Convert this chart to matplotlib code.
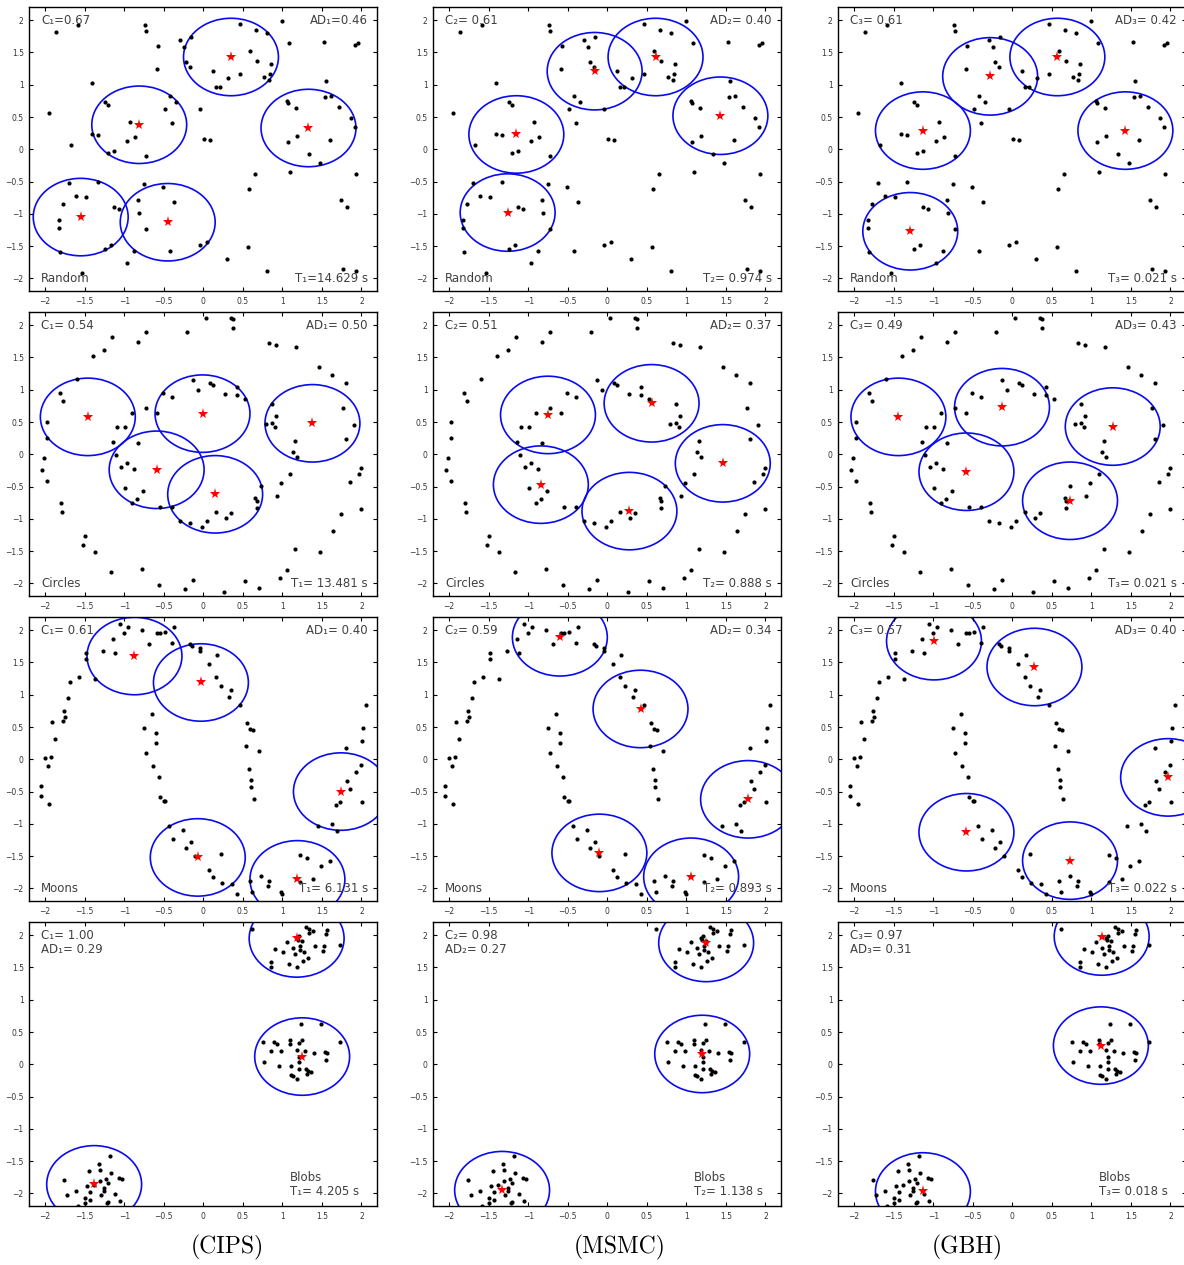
import numpy as np
import matplotlib
matplotlib.use("Agg")
import matplotlib.pyplot as plt
from matplotlib.patches import Circle

# ---- datasets (same points in every column of a row) ----
random_pts = [(-1.86, 1.82), (-1.59, 1.93), (-0.74, 1.92), (-0.73, 1.83), (-0.57, 1.60), (-0.59, 1.24),
              (-0.29, 1.69), (-0.24, 1.59), (-0.22, 1.35), (-0.17, 1.27), (-0.16, 1.74), (0.12, 1.21),
              (0.31, 1.10), (0.16, 0.96), (0.21, 0.97), (0.46, 1.94), (0.67, 1.85), (0.80, 1.80),
              (0.59, 1.52), (0.68, 1.37), (0.85, 1.32), (0.84, 1.16), (0.77, 1.12), (0.83, 1.07),
              (0.46, 1.17), (0.99, 1.99), (1.08, 1.64), (1.52, 1.67), (1.92, 1.61), (1.96, 1.65),
              (1.55, 1.06), (1.54, 0.81), (1.62, 0.83), (1.71, 0.66), (1.87, 0.48), (1.92, 0.35),
              (1.06, 0.75), (1.07, 0.71), (1.17, 0.64), (1.19, 0.20), (1.07, 0.11), (1.60, 0.14),
              (1.34, -0.07), (1.48, -0.22), (1.09, -0.35), (1.93, -0.39), (0.65, -0.39), (0.58, -0.62),
              (1.74, -0.78), (1.82, -0.89), (0.57, -1.52), (0.05, -1.44), (-0.04, -1.48), (0.30, -1.70),
              (0.80, -1.89), (1.77, -1.86), (1.93, -1.89), (0.01, 0.16), (0.09, 0.15), (-0.04, 0.63),
              (-0.42, 0.82), (-0.35, 0.74), (-0.49, 0.63), (-0.39, 0.40), (-1.41, 1.02), (-1.95, 0.57),
              (-1.24, 0.74), (-1.21, 0.69), (-1.41, 0.23), (-1.33, 0.22), (-0.93, 0.43), (-0.86, 0.19),
              (-0.97, 0.13), (-1.13, -0.02), (-1.20, -0.06), (-0.72, -0.10), (-1.67, 0.06), (-1.70, -0.52),
              (-1.33, -0.50), (-0.75, -0.53), (-0.51, -0.59), (-1.61, -0.73), (-1.48, -0.74), (-1.78, -0.84),
              (-0.83, -0.79), (-0.81, -0.99), (-1.13, -0.90), (-1.06, -0.92), (-0.37, -0.82), (-1.83, -1.10),
              (-1.83, -1.22), (-0.73, -1.23), (-1.17, -1.48), (-1.24, -1.55), (-1.81, -1.59), (-0.87, -1.58),
              (-0.42, -1.58), (-0.97, -1.76), (-1.53, -1.91)]

circles_pts = [(0.03, 2.11), (0.35, 2.11), (0.38, 2.09), (0.38, 1.96), (-0.21, 1.90), (-0.72, 1.90),
               (-0.82, 1.74), (-1.15, 1.82), (-1.25, 1.61), (-1.40, 1.53), (-1.60, 1.16), (-1.81, 0.95),
               (-1.78, 0.83), (-1.98, 0.50), (-1.97, 0.26), (-2.02, -0.05), (-2.04, -0.24), (-1.97, -0.41),
               (-1.80, -0.75), (-1.79, -0.90), (-1.49, -1.26), (-1.52, -1.40), (-1.37, -1.51), (-1.17, -1.82),
               (-0.77, -1.77), (-0.56, -2.02), (-0.23, -2.09), (-0.13, -1.94), (0.26, -2.14), (0.53, -1.96),
               (0.71, -2.07), (0.97, -1.91), (1.06, -1.79), (1.16, -1.47), (1.47, -1.52), (1.64, -1.19),
               (1.74, -0.92), (2.00, -0.85), (1.86, -0.43), (1.97, -0.30), (2.00, -0.21), (1.81, 0.23),
               (1.91, 0.46), (1.77, 0.72), (1.80, 1.10), (1.63, 1.23), (1.46, 1.36), (1.17, 1.66),
               (0.92, 1.70), (0.83, 1.73), (1.16, 0.20), (1.13, 0.04), (1.18, -0.04), (1.09, -0.30),
               (0.98, -0.44), (0.93, -0.65), (0.87, 0.49), (0.79, 0.47), (0.91, 0.43), (0.92, 0.59),
               (0.87, 0.78), (0.66, -0.68), (0.68, -0.73), (0.68, -0.83), (0.35, -0.91), (0.29, -0.98),
               (0.16, -0.89), (0.05, -1.04), (-0.02, -1.12), (-0.17, -1.07), (-0.29, -1.04), (-0.39, -0.82),
               (-0.55, -0.82), (-0.76, -0.57), (-0.84, -0.69), (-0.90, -0.76), (-0.99, -0.52), (-0.88, -0.23),
               (-0.96, -0.13), (-1.04, -0.20), (-1.10, -0.01), (-1.14, 0.19), (-0.83, 0.18), (-1.09, 0.42),
               (-0.99, 0.42), (-0.90, 0.64), (-0.72, 0.71), (-0.58, 0.64), (-0.51, 0.95), (-0.39, 0.89),
               (-0.13, 1.15), (-0.07, 1.00), (0.08, 1.10), (0.12, 1.07), (0.28, 0.94), (0.42, 1.05),
               (0.42, 0.92), (0.53, 0.85), (0.73, -0.49)]

moons_pts = [(-1.05, 2.10), (-0.95, 2.05), (-1.00, 1.95), (-1.14, 1.87), (-1.12, 1.64), (-1.27, 1.68),
             (-0.78, 2.01), (-0.69, 1.79), (-0.59, 1.95), (-0.55, 1.95), (-0.48, 1.98), (-0.37, 2.05),
             (-0.39, 1.80), (-0.17, 1.78), (-0.14, 1.75), (-0.04, 1.72), (-0.04, 1.68), (0.07, 1.48),
             (0.17, 1.61), (0.16, 1.27), (0.22, 1.13), (0.35, 1.08), (0.33, 0.96), (0.46, 0.84),
             (0.55, 0.57), (0.59, 0.47), (0.63, 0.45), (0.54, 0.20), (0.70, 0.13), (0.58, -0.15),
             (0.60, -0.32), (0.60, -0.43), (0.64, -0.61), (-1.48, 1.65), (-1.48, 1.56), (-1.37, 1.25),
             (-1.57, 1.28), (-1.69, 1.19), (-1.71, 0.95), (-1.76, 0.75), (-1.75, 0.66), (-1.77, 0.60),
             (-1.91, 0.58), (-1.88, 0.32), (-2.00, 0.02), (-1.92, 0.04), (-1.96, -0.11), (-2.05, -0.41),
             (-2.05, -0.57), (-1.95, -0.70), (-0.65, 0.70), (-0.75, 0.49), (-0.60, 0.41), (-0.60, 0.26),
             (-0.73, 0.10), (-0.64, -0.11), (-0.56, -0.28), (-0.55, -0.58), (-0.50, -0.64), (-0.48, -0.65),
             (-0.44, -1.04), (-0.38, -1.24), (-0.26, -1.10), (-0.22, -1.38), (-0.16, -1.28), (-0.11, -1.50),
             (0.07, -1.72), (0.12, -1.83), (0.23, -1.47), (0.24, -1.91), (0.36, -1.93), (0.43, -2.09),
             (0.59, -1.88), (0.62, -2.06), (0.73, -1.81), (0.83, -1.89), (0.82, -1.97), (0.98, -2.05),
             (0.99, -2.09), (1.22, -1.48), (1.31, -1.53), (1.22, -1.90), (1.39, -1.86), (1.49, -1.66),
             (1.60, -1.58), (1.45, -1.04), (1.63, -1.00), (1.69, -1.11), (1.68, -0.71), (1.73, -0.66),
             (1.85, -0.46), (1.82, -0.33), (1.93, -0.19), (2.00, -0.09), (2.01, -0.66), (1.81, 0.17),
             (2.01, 0.28), (2.02, 0.48), (2.06, 0.84)]

blobs_pts = [(0.61, 2.10), (1.30, 2.12), (1.34, 2.10), (1.39, 2.07), (1.57, 2.08), (1.55, 2.02),
             (1.34, 2.03), (1.19, 1.96), (1.21, 1.99), (1.20, 1.93), (1.25, 1.91), (1.06, 1.89),
             (1.22, 1.83), (1.41, 1.83), (1.53, 1.83), (1.73, 1.85), (0.91, 1.79), (1.13, 1.80),
             (1.01, 1.74), (1.16, 1.71), (1.22, 1.77), (1.27, 1.74), (1.51, 1.76), (1.33, 1.64),
             (1.26, 1.60), (0.85, 1.59), (0.86, 1.51), (1.08, 1.55), (1.19, 1.50),
             (1.24, 0.62), (1.49, 0.62), (1.73, 0.35), (0.75, 0.35), (0.90, 0.35), (0.93, 0.31),
             (1.10, 0.37), (1.10, 0.31), (1.25, 0.38), (1.21, 0.33), (0.85, 0.20), (0.98, 0.21),
             (1.18, 0.22), (1.29, 0.20), (1.40, 0.18), (1.54, 0.19), (1.56, 0.17), (0.77, 0.04),
             (0.96, -0.02), (1.11, -0.02), (1.21, 0.03), (1.21, 0.11), (1.55, 0.07), (1.21, -0.07),
             (1.30, -0.07), (1.32, -0.10), (1.36, -0.12), (1.31, -0.15), (1.11, -0.16), (1.14, -0.18),
             (1.19, -0.23),
             (-1.18, -1.42), (-1.32, -1.54), (-1.31, -1.63), (-1.45, -1.65), (-1.17, -1.69), (-1.76, -1.80),
             (-1.31, -1.81), (-1.23, -1.78), (-1.20, -1.84), (-1.07, -1.76), (-1.03, -1.78), (-1.47, -1.89),
             (-1.38, -1.87), (-1.25, -1.91), (-1.61, -1.96), (-1.72, -2.03), (-1.43, -1.98), (-1.25, -1.96),
             (-1.29, -2.03), (-1.12, -2.01), (-1.50, -2.07), (-1.43, -2.10), (-1.50, -2.15), (-1.58, -2.20),
             (-1.22, -2.15), (-1.20, -2.13), (-1.05, -2.12)]

# ---- cluster centres found by each method ----
random_cips = [(0.35, 1.43), (-0.81, 0.38), (1.33, 0.33), (-1.55, -1.05), (-0.45, -1.13)]
random_msmc = [(-0.16, 1.21), (0.61, 1.43), (-1.15, 0.23), (1.43, 0.52), (-1.26, -0.98)]
random_gbh = [(-0.28, 1.13), (0.57, 1.43), (-1.13, 0.29), (1.43, 0.29), (-1.29, -1.27)]

circles_cips = [(-1.46, 0.58), (-0.01, 0.63), (1.38, 0.48), (-0.59, -0.24), (0.15, -0.62)]
circles_msmc = [(-0.75, 0.61), (0.56, 0.79), (1.46, -0.14), (-0.84, -0.47), (0.28, -0.88)]
circles_gbh = [(-1.44, 0.58), (-0.13, 0.73), (1.27, 0.43), (-0.58, -0.27), (0.73, -0.72)]

moons_cips = [(-0.87, 1.60), (-0.03, 1.19), (1.74, -0.50), (-0.07, -1.52), (1.19, -1.86)]
moons_msmc = [(-0.60, 1.89), (0.42, 0.78), (1.78, -0.62), (-0.10, -1.45), (1.06, -1.82)]
moons_gbh = [(-0.99, 1.83), (0.28, 1.43), (1.97, -0.28), (-0.58, -1.13), (0.73, -1.57)]

blobs_cips = [(1.18, 1.95), (1.25, 0.12), (-1.38, -1.86)]
blobs_msmc = [(1.25, 1.88), (1.20, 0.16), (-1.33, -1.95)]
blobs_gbh = [(1.13, 1.98), (1.12, 0.29), (-1.13, -1.97)]

radius = 0.6

dataset_names = ["Random", "Circles", "Moons", "Blobs"]
method_names = ["(CIPS)", "(MSMC)", "(GBH)"]

c_text = [["C\u2081=0.67", "C\u2082= 0.61", "C\u2083= 0.61"],
          ["C\u2081= 0.54", "C\u2082= 0.51", "C\u2083= 0.49"],
          ["C\u2081= 0.61", "C\u2082= 0.59", "C\u2083= 0.57"],
          ["C\u2081= 1.00", "C\u2082= 0.98", "C\u2083= 0.97"]]
ad_text = [["AD\u2081=0.46", "AD\u2082= 0.40", "AD\u2083= 0.42"],
           ["AD\u2081= 0.50", "AD\u2082= 0.37", "AD\u2083= 0.43"],
           ["AD\u2081= 0.40", "AD\u2082= 0.34", "AD\u2083= 0.40"],
           ["AD\u2081= 0.29", "AD\u2082= 0.27", "AD\u2083= 0.31"]]
t_text = [["T\u2081=14.629 s", "T\u2082= 0.974 s", "T\u2083= 0.021 s"],
          ["T\u2081= 13.481 s", "T\u2082= 0.888 s", "T\u2083= 0.021 s"],
          ["T\u2081= 6.131 s", "T\u2082= 0.893 s", "T\u2083= 0.022 s"],
          ["T\u2081= 4.205 s", "T\u2082= 1.138 s", "T\u2083= 0.018 s"]]

points = [random_pts, circles_pts, moons_pts, blobs_pts]
centres = [[random_cips, random_msmc, random_gbh],
           [circles_cips, circles_msmc, circles_gbh],
           [moons_cips, moons_msmc, moons_gbh],
           [blobs_cips, blobs_msmc, blobs_gbh]]

W, H = 1184, 1265
fig = plt.figure(figsize=(W / 100, H / 100), dpi=100)

col_left = [29.3, 433.3, 838.3]
row_top = [7.3, 312.3, 617.3, 922.3]
ax_w, ax_h = 348, 284
txt_col = "#404040"
ticks = np.arange(-2, 2.01, 0.5)

for r in range(4):
    pts = np.array(points[r])
    for c in range(3):
        ax = fig.add_axes([col_left[c] / W, (H - row_top[r] - ax_h) / H, ax_w / W, ax_h / H])
        ax.set_xlim(-2.2, 2.2)
        ax.set_ylim(-2.2, 2.2)
        ax.plot(pts[:, 0], pts[:, 1], "o", color="k", ms=3.0, mew=0)
        cen = np.array(centres[r][c])
        for cx, cy in cen:
            ax.add_patch(Circle((cx, cy), radius, fill=False, ec="#0a0af0", lw=1.2))
        ax.plot(cen[:, 0], cen[:, 1], "*", color="red", ms=8, mew=0, zorder=5)

        ax.set_xticks(ticks)
        ax.set_yticks(ticks)
        ax.set_xticklabels([f"{t:g}".replace("-", "\u2212") for t in ticks])
        ax.set_yticklabels([f"{t:g}".replace("-", "\u2212") for t in ticks])
        ax.tick_params(direction="in", length=3, width=0.8, top=True, right=True,
                       labelsize=5.5, labelcolor="#333333", pad=4)
        for s in ax.spines.values():
            s.set_linewidth(1.0)

        fs = 8.5
        if r < 3:
            ax.text(-2.05, 2.0, c_text[r][c], ha="left", va="center", fontsize=fs, color=txt_col)
            ax.text(2.08, 2.0, ad_text[r][c], ha="right", va="center", fontsize=fs, color=txt_col)
            ax.text(-2.05, -2.0, dataset_names[r], ha="left", va="center", fontsize=fs, color=txt_col)
            ax.text(2.08, -2.0, t_text[r][c], ha="right", va="center", fontsize=fs, color=txt_col)
        else:
            ax.text(-2.05, 2.0, c_text[r][c], ha="left", va="center", fontsize=fs, color=txt_col)
            ax.text(-2.05, 1.78, ad_text[r][c], ha="left", va="center", fontsize=fs, color=txt_col)
            ax.text(1.1, -1.76, dataset_names[r], ha="left", va="center", fontsize=fs, color=txt_col)
            ax.text(1.1, -1.97, t_text[r][c], ha="left", va="center", fontsize=fs, color=txt_col)

label_x = [227, 620, 967]
for c in range(3):
    fig.text(label_x[c] / W, (H - 1247) / H, method_names[c], ha="center", va="center",
             fontsize=17, family=["cmr10", "DejaVu Serif"])

fig.savefig("out.png", dpi=100)
